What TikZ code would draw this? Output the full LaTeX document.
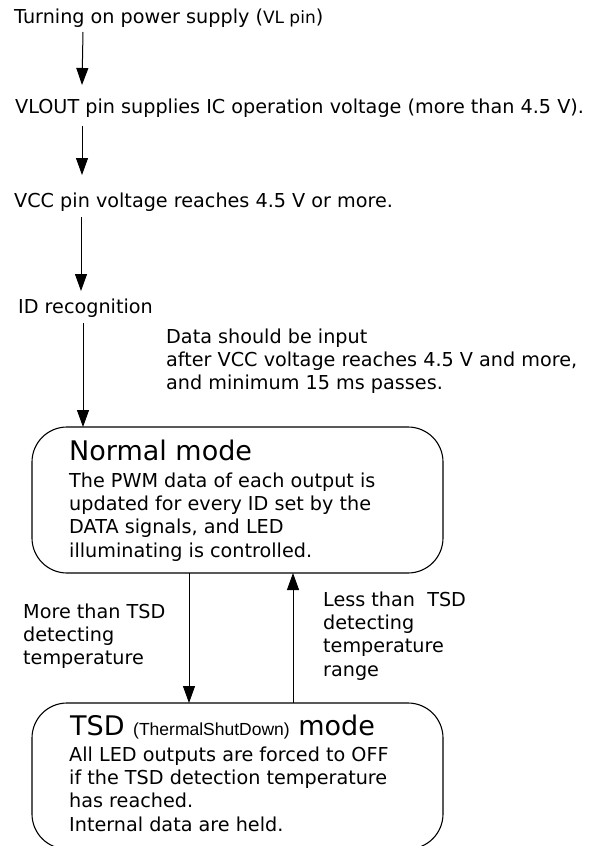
\documentclass[tikz,border=0pt]{standalone}
\usepackage{fontspec}
\setmainfont{DejaVu Sans}
\newfontfamily\narrowfont{Liberation Sans}
\usetikzlibrary{arrows.meta}

\begin{document}
\begin{tikzpicture}[x=1pt,y=-1pt,
    txt/.style={anchor=base west,inner sep=0pt,font=\fontsize{19.2}{23.3}\selectfont,align=left},
    title/.style={anchor=base west,inner sep=0pt,font=\fontsize{27}{30}\selectfont},
    modebox/.style={draw,line width=1.1pt,rounded corners=35pt,minimum width=411pt,minimum height=146pt,inner sep=0pt,outer sep=0pt},
    flow/.style={line width=1pt,-{Triangle[length=17pt,width=12pt]}}]
  \useasboundingbox (0,0) rectangle (596,846);
  \clip (0,0) rectangle (596,846);
  % start-up sequence
  \node[txt] (power) at (14,23) {Turning on power supply ({\fontsize{17}{18}\selectfont VL pin})};
  \node[txt] (vlout) at (15,113) {VLOUT pin supplies IC operation voltage (more than 4.5 V).};
  \node[txt] (vcc) at (14,207) {VCC pin voltage reaches 4.5 V or more.};
  \node[txt] (idrec) at (18,313) {ID recognition};
  % multi-line texts sit on their last baseline
  \node[txt] (note) at (166,389.6) {Data should be input\\after VCC voltage reaches 4.5 V and more,\\and minimum 15 ms passes.};
  \draw[flow] ([xshift=69pt,yshift=-9pt]power.base west) -- ([xshift=67pt,yshift=28pt]vlout.base west);
  \draw[flow] ([xshift=67pt,yshift=-13pt]vlout.base west) -- ([xshift=68pt,yshift=32pt]vcc.base west);
  \draw[flow] ([xshift=67pt,yshift=-10pt]vcc.base west) -- ([xshift=63pt,yshift=22pt]idrec.base west);
  % modes
  \node[modebox] (normal) at (237.5,500) {};
  \node[title] (normaltitle) at (69,460) {Normal mode};
  \node[txt] (normaltext) at (69,557) {The PWM data of each output is\\updated for every ID set by the\\DATA signals, and LED\\illuminating is controlled.};
  \node[modebox] (tsd) at (237.5,776) {};
  \node[title] (tsdtitle) at (70,735) {TSD {\narrowfont\fontsize{17.5}{18}\selectfont (ThermalShutDown)} mode};
  \node[txt] (tsdtext) at (69,831) {All LED outputs are forced to OFF\\if the TSD detection temperature\\has reached.\\Internal data are held.};
  \draw[flow] ([xshift=65pt,yshift=-10pt]idrec.base west) -- ([xshift=-154.5pt]normal.north);
  \draw[flow] ([xshift=-48.5pt]normal.south) -- ([xshift=-48.5pt]tsd.north);
  \draw[flow] ([xshift=55.5pt]tsd.north) -- ([xshift=55.5pt]normal.south);
  \node[txt] (hotlbl) at (23,664.6) {More than TSD\\detecting\\temperature};
  \node[txt] (coollbl) at (323,676) {Less than\ \ TSD\\detecting\\temperature\\range};
\end{tikzpicture}
\end{document}
